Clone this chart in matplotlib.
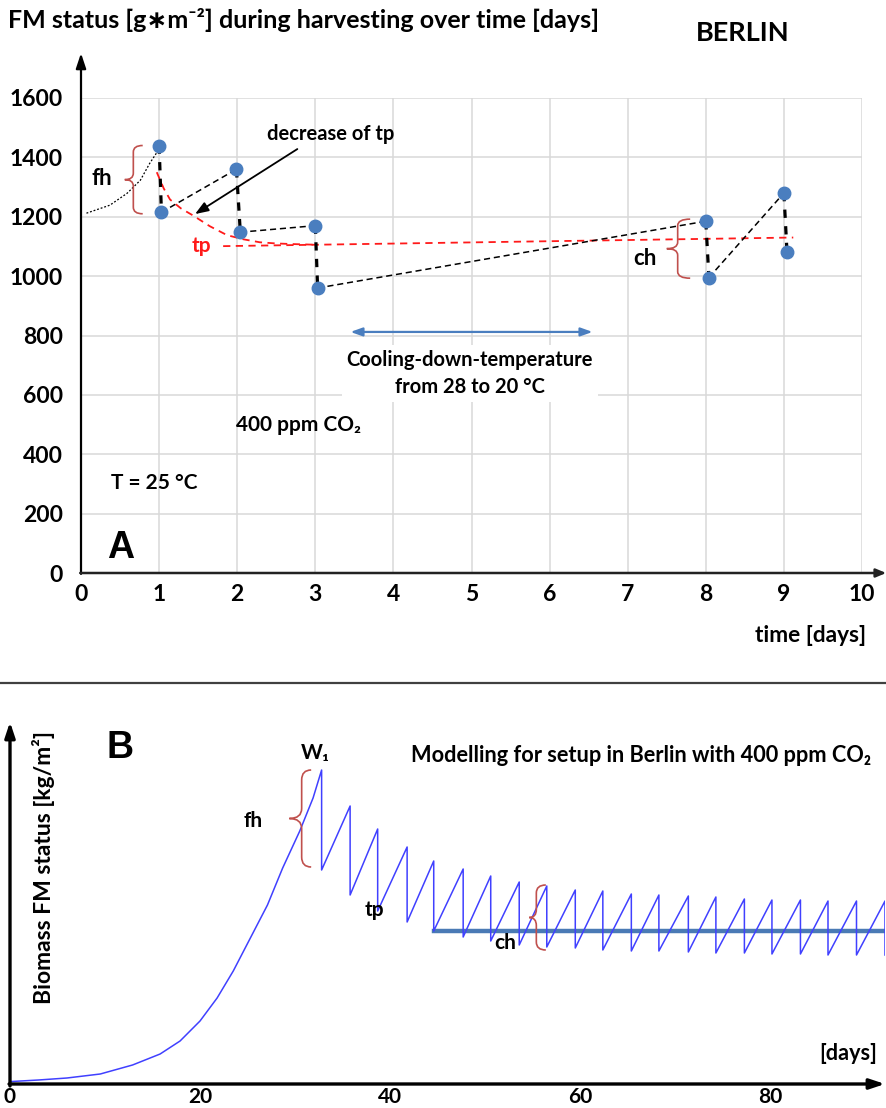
import numpy as np
import matplotlib.pyplot as plt
from matplotlib.path import Path
from matplotlib.patches import PathPatch
from matplotlib.lines import Line2D

plt.rcParams['font.family'] = ['Lato', 'DejaVu Sans']
plt.rcParams['font.weight'] = 'bold'

# ---- panel A : measured FM status in Berlin
t_before = [1.0, 1.99, 3.0, 8.0, 9.0]
fm_before = [1440, 1360, 1170, 1185, 1280]
t_after = [1.03, 2.04, 3.03, 8.04, 9.04]
fm_after = [1215, 1148, 960, 995, 1080]

start_t = [0.07, 0.37, 0.59, 0.76, 0.88, 0.99]
start_fm = [1212, 1239, 1279, 1323, 1380, 1424]

tp_curve_t = [0.97, 1.06, 1.14, 1.28, 1.43, 1.65, 1.87, 2.08, 2.29, 2.5, 2.71, 2.97]
tp_curve_fm = [1350, 1295, 1258, 1228, 1205, 1168, 1138, 1124, 1114, 1110, 1108, 1106]
tp_line_t = [1.82, 9.12]
tp_line_fm = [1101, 1130]

# ---- panel B : model, Berlin 400 ppm
growth_t = [0, 3, 6.0, 9.5, 12.9, 15.8, 17.9, 20.0, 21.8, 23.5, 25.3, 27.1, 28.7, 30.5, 31.9]
growth_w = [0.012, 0.02, 0.03, 0.05, 0.095, 0.15, 0.215, 0.315, 0.43, 0.565, 0.73, 0.895, 1.08, 1.265, 1.43]
harvest_t = [32.8, 35.8, 38.7, 41.8, 44.6, 47.7, 50.6, 53.6, 56.5, 59.5, 62.4,
             65.4, 68.3, 71.4, 74.3, 77.3, 80.2, 83.2, 86.1, 89.1, 92.1]
peak_w = [1.57, 1.39, 1.275, 1.185, 1.115, 1.075, 1.04, 1.01, 0.99, 0.97, 0.965,
          0.95, 0.945, 0.94, 0.935, 0.925, 0.92, 0.92, 0.915, 0.915, 0.915]
trough_w = [1.07, 0.945, 0.865, 0.81, 0.765, 0.735, 0.715, 0.695, 0.685, 0.68, 0.67,
            0.665, 0.665, 0.66, 0.655, 0.655, 0.65, 0.65, 0.645, 0.645, 0.645]
steady_t = [44.6, 92.1]
steady_w = [0.765, 0.765]

W, H = 886, 1108
RED = '#c0504d'


def brace(ax, x, y0, y1, w, tip, ry):
    # curly bracket opening to the right, tip to the left
    ym = (y0 + y1) / 2
    verts = [(x + w, y1), (x, y1), (x, y1 - ry),
             (x, ym + ry), (x, ym), (x - tip, ym),
             (x, ym), (x, ym - ry),
             (x, y0 + ry), (x, y0), (x + w, y0)]
    codes = [Path.MOVETO, Path.CURVE3, Path.CURVE3,
             Path.LINETO, Path.CURVE3, Path.CURVE3,
             Path.CURVE3, Path.CURVE3,
             Path.LINETO, Path.CURVE3, Path.CURVE3]
    ax.add_patch(PathPatch(Path(verts, codes), fc='none', ec=RED, lw=1.2,
                           clip_on=False, zorder=4))


fig = plt.figure(figsize=(W / 100, H / 100), dpi=100)

# ================= panel A
ax = fig.add_axes([81 / W, 1 - 573 / H, 781 / W, 475 / H])
ax.set_xlim(0, 10)
ax.set_ylim(0, 1600)
ax.set_xticks(range(11))
ax.set_yticks(range(0, 1601, 200))
ax.grid(True, color='#d9d9d9', lw=1.1)
ax.set_axisbelow(True)
for s in ax.spines.values():
    s.set_visible(False)
ax.tick_params(length=0, labelsize=16.5)
ax.tick_params(axis='x', pad=8)
ax.tick_params(axis='y', pad=13)

ax.annotate('', xy=(0, 1751), xytext=(0, -3), annotation_clip=False,
            arrowprops=dict(arrowstyle='-|>,head_length=0.9,head_width=0.3',
                            color='black', lw=1.6, shrinkA=0, shrinkB=0))
ax.annotate('', xy=(10.31, 0), xytext=(-0.01, 0), annotation_clip=False,
            arrowprops=dict(arrowstyle='-|>,head_length=0.6,head_width=0.25',
                            color='#222222', lw=1.8, shrinkA=0, shrinkB=0))

ax.plot(start_t, start_fm, color='black', lw=0.9, ls=(0, (1.5, 1.5)), zorder=3)
ax.plot(tp_curve_t, tp_curve_fm, color='#ff1a1a', lw=1.3, ls=(0, (4, 3)), zorder=3)
ax.plot(tp_line_t, tp_line_fm, color='#ff1a1a', lw=1.3, ls=(0, (4, 3)), zorder=3)
for i in range(len(t_before)):
    ax.plot([t_before[i], t_after[i]], [fm_before[i], fm_after[i]], color='black',
            lw=2.3, ls=(0, (2.6, 2.6)), zorder=3)
    if i + 1 < len(t_before):
        ax.plot([t_after[i], t_before[i + 1]], [fm_after[i], fm_before[i + 1]],
                color='black', lw=1.1, ls=(0, (4, 2.5)), zorder=3)
ax.plot(t_before, fm_before, 'o', color='#4a7ebf', ms=9, zorder=5)
ax.plot(t_after, fm_after, 'o', color='#4a7ebf', ms=9, zorder=5)

brace(ax, 0.67, fm_after[0] - 5, fm_before[0], 0.12, 0.11, 22)
brace(ax, 7.64, fm_after[3] - 2, 1192, 0.16, 0.14, 22)

ax.text(0.27, 1330, 'fh', fontsize=16, ha='center', va='center')
ax.text(1.54, 1100, 'tp', fontsize=15, ha='center', va='center', color='#ff1a1a')
ax.text(7.22, 1060, 'ch', fontsize=16, ha='center', va='center')
ax.text(3.2, 1478, 'decrease of tp', fontsize=14.5, ha='center', va='center')
ax.annotate('', xy=(1.46, 1209), xytext=(2.77, 1428),
            arrowprops=dict(arrowstyle='-|>,head_length=0.8,head_width=0.3',
                            color='black', lw=1.3, shrinkA=0, shrinkB=0))
ax.annotate('', xy=(3.45, 812), xytext=(6.55, 812),
            arrowprops=dict(arrowstyle='<|-|>,head_length=0.7,head_width=0.25',
                            color='#4a7ebf', lw=1.6, shrinkA=0, shrinkB=0))
ax.text(4.98, 672, 'Cooling-down-temperature\nfrom 28 to 20 °C', fontsize=14.5,
        ha='center', va='center', linespacing=1.45, zorder=4,
        bbox=dict(boxstyle='square,pad=0.25', fc='white', ec='none'))
ax.text(1.98, 500, '400 ppm CO₂', fontsize=15, ha='left', va='center')
ax.text(0.39, 304, 'T = 25 °C', fontsize=15, ha='left', va='center')
ax.text(0.34, 84, 'A', fontsize=27, ha='left', va='center', family='Liberation Sans')

fig.text(8 / W, 1 - 20 / H, 'FM status [g∗m⁻²] during harvesting over time [days]',
         fontsize=18, ha='left', va='center')
fig.text(743 / W, 1 - 33 / H, 'BERLIN', fontsize=19.5, ha='center', va='center')
fig.text(866 / W, 1 - 636 / H, 'time [days]', fontsize=16.3, ha='right', va='center')

fig.add_artist(Line2D([0, 1], [1 - 683 / H] * 2, color='#404040', lw=1.6,
                      transform=fig.transFigure))

# ================= panel B
bx = list(growth_t)
by = list(growth_w)
for i in range(len(harvest_t)):
    bx += [harvest_t[i], harvest_t[i]]
    by += [peak_w[i], trough_w[i]]

axb = fig.add_axes([10 / W, 1 - 1084 / H, 875 / W, 362 / H])
axb.set_xlim(0, 92.1)
axb.set_ylim(0, 1.81)
for s in axb.spines.values():
    s.set_visible(False)
axb.set_yticks([])
axb.set_xticks([0, 20, 40, 60, 80])
axb.tick_params(length=0, labelsize=15, pad=2)

axb.plot(bx, by, color='#4040ff', lw=1.1, zorder=3)
axb.plot(steady_t, steady_w, color='#4a7ab5', lw=3.2, zorder=2)

axb.annotate('', xy=(0, 1.81), xytext=(0, -0.01), annotation_clip=False,
             arrowprops=dict(arrowstyle='-|>,head_length=0.9,head_width=0.3',
                             color='black', lw=2.4, shrinkA=0, shrinkB=0))
axb.annotate('', xy=(92.1, 0), xytext=(-0.1, 0), annotation_clip=False,
             arrowprops=dict(arrowstyle='-|>,head_length=0.9,head_width=0.3',
                             color='black', lw=2.4, shrinkA=0, shrinkB=0))

brace(axb, 30.7, 1.085, 1.57, 1.0, 1.3, 0.05)
brace(axb, 55.4, 0.67, 0.995, 1.0, 0.75, 0.04)

axb.text(10.2, 1.68, 'B', fontsize=27, ha='left', va='center', family='Liberation Sans')
axb.text(32.1, 1.655, 'W₁', fontsize=15, ha='center', va='center')
axb.text(25.6, 1.315, 'fh', fontsize=15, ha='center', va='center')
axb.text(38.4, 0.87, 'tp', fontsize=15, ha='center', va='center')
axb.text(52.1, 0.705, 'ch', fontsize=15, ha='center', va='center')
axb.text(42.2, 1.64, 'Modelling for setup in Berlin with 400 ppm CO₂', fontsize=15.7,
         ha='left', va='center')
axb.text(91.3, 0.155, '[days]', fontsize=15.6, ha='right', va='center')
axb.text(3.5, 1.08, 'Biomass FM status [kg/m²]', fontsize=16.5, rotation=90,
         ha='center', va='center')

fig.savefig('out.png', dpi=100)
